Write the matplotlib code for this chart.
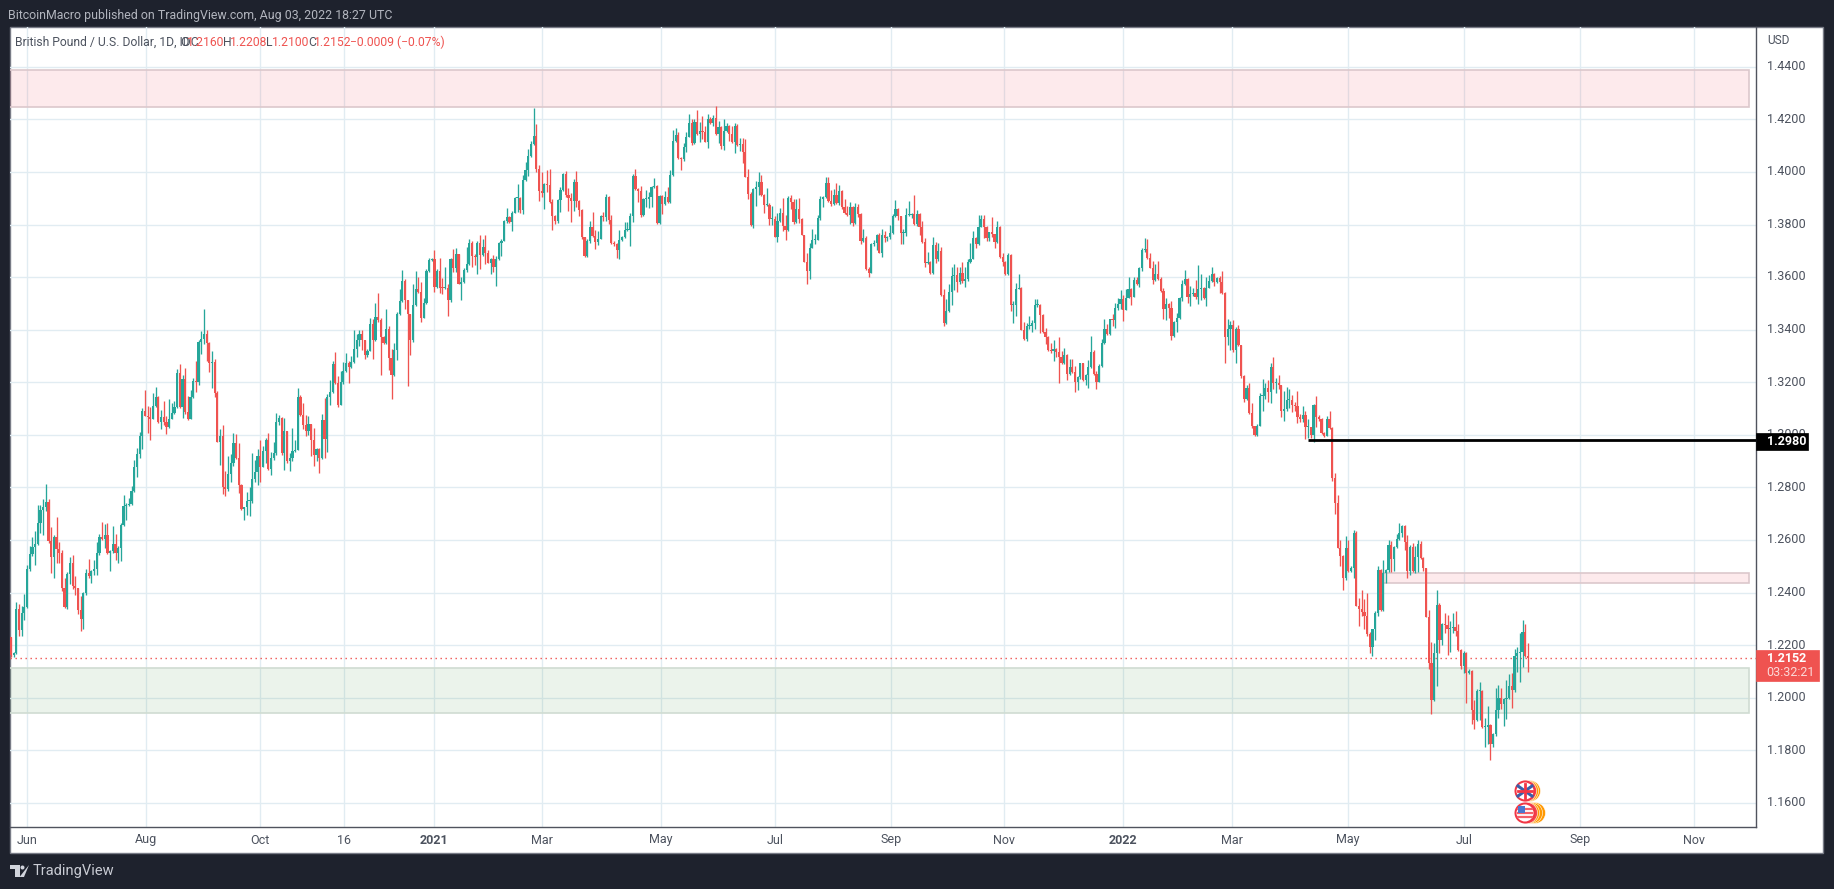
import matplotlib
matplotlib.use("Agg")
import matplotlib.pyplot as plt
from matplotlib.patches import Circle, Polygon, Rectangle
import numpy as np

# GBPUSD daily candles, in 1/10000 of a dollar.
# One line per 10 bars, upper/lower are wick lengths past the body.
first_open = 12232
closes = [
    12162,12170,12337,12258,12322,12347,12491,12548,12575,12584,
    12666,12716,12727,12746,12596,12535,12610,12565,12549,12419,
    12347,12470,12511,12425,12418,12334,12299,12397,12476,12463,
    12482,12491,12549,12611,12605,12621,12549,12558,12587,12552,
    12571,12656,12729,12732,12736,12786,12879,12929,12997,13089,
    13073,13068,13062,13109,13143,13048,13068,13048,13029,13062,
    13084,13105,13236,13105,13213,13086,13061,13144,13206,13200,
    13353,13365,13385,13349,13273,13276,13159,12974,12994,12800,
    12796,12851,12893,12969,12914,12809,12720,12724,12747,12747,
    12834,12857,12918,12879,12937,12980,12870,12912,12930,13049,
    13064,12933,13016,12899,12914,12940,12943,13143,13075,13039,
    13016,13040,12982,12923,12946,12912,13056,12984,13143,13162,
    13270,13198,13115,13200,13243,13274,13257,13276,13325,13359,
    13383,13359,13305,13320,13420,13361,13448,13438,13374,13350,
    13403,13294,13228,13321,13460,13509,13586,13514,13460,13359,
    13495,13556,13543,13446,13500,13624,13664,13668,13563,13624,
    13560,13558,13558,13512,13670,13634,13687,13575,13582,13626,
    13649,13729,13681,13677,13731,13683,13716,13693,13655,13668,
    13639,13668,13731,13738,13814,13830,13811,13845,13900,13900,
    13854,13969,14008,14059,14106,14135,14011,13928,13918,13954,
    13951,13884,13833,13814,13893,13932,13993,13912,13899,13890,
    13960,13890,13856,13751,13681,13738,13789,13757,13734,13744,
    13833,13827,13906,13818,13729,13725,13703,13740,13751,13778,
    13780,13833,13983,13935,13928,13836,13897,13897,13903,13941,
    13945,13805,13909,13877,13903,13886,13988,14116,14140,14053,
    14049,14093,14134,14186,14110,14191,14143,14156,14151,14115,
    14201,14186,14204,14144,14170,14100,14156,14176,14144,14112,
    14176,14103,14106,14077,13982,13916,13797,13935,13941,13960,
    13912,13874,13876,13820,13820,13754,13814,13842,13795,13778,
    13902,13886,13810,13858,13820,13761,13659,13624,13712,13742,
    13742,13823,13897,13903,13957,13890,13877,13911,13881,13927,
    13865,13843,13836,13866,13805,13865,13839,13738,13750,13630,
    13617,13725,13729,13759,13693,13759,13747,13754,13767,13831,
    13858,13831,13767,13767,13836,13836,13839,13801,13839,13792,
    13734,13653,13658,13615,13721,13668,13700,13531,13427,13471,
    13545,13604,13607,13582,13615,13585,13592,13658,13670,13747,
    13725,13792,13820,13791,13747,13770,13763,13734,13792,13677,
    13658,13611,13683,13493,13493,13556,13560,13399,13366,13414,
    13414,13427,13493,13495,13455,13391,13372,13321,13319,13328,
    13315,13296,13272,13303,13230,13259,13239,13201,13220,13272,
    13207,13227,13259,13316,13232,13201,13262,13348,13404,13382,
    13439,13436,13484,13496,13518,13475,13522,13554,13526,13589,
    13573,13636,13702,13706,13672,13636,13589,13611,13594,13547,
    13480,13499,13484,13376,13430,13445,13519,13573,13592,13524,
    13535,13541,13526,13554,13557,13519,13560,13584,13613,13582,
    13597,13582,13541,13373,13401,13416,13323,13404,13340,13223,
    13135,13179,13082,13032,12999,13034,13146,13146,13180,13164,
    13260,13197,13197,13189,13091,13098,13131,13132,13113,13110,
    13069,13062,13075,13029,13029,12999,13114,13069,13060,13009,
    12996,13060,13028,12836,12742,12571,12539,12454,12571,12482,
    12495,12628,12351,12338,12326,12310,12241,12194,12260,12323,
    12488,12333,12473,12488,12583,12529,12575,12603,12628,12653,
    12594,12482,12573,12482,12535,12587,12533,12492,12309,12132,
    11992,12170,12352,12220,12282,12276,12263,12267,12270,12254,
    12182,12121,12172,12096,12102,11953,11915,12025,12027,11890,
    11890,11896,11824,11862,11953,12001,11976,11995,12001,12046,
    12029,12159,12170,12176,12252,12159,12152,
]
upper = [
    0,5,28,19,28,47,16,29,38,51,
    67,16,28,66,9,55,11,79,28,15,
    38,9,25,33,40,0,55,5,15,53,
    5,32,43,13,58,42,44,6,66,38,
    6,10,41,10,25,19,24,20,15,14,
    80,35,38,51,39,3,28,62,22,74,
    38,23,13,32,13,42,63,25,10,76,
    6,29,95,15,3,42,13,9,30,43,
    64,67,34,38,34,54,3,3,37,53,
    97,48,28,62,22,10,27,22,42,34,
    11,3,50,0,19,86,38,36,9,48,
    37,33,1,43,3,3,23,83,13,46,
    11,44,25,44,33,38,8,23,75,25,
    14,15,1,5,24,22,54,93,6,3,
    76,10,33,30,9,44,42,8,0,0,
    80,66,44,38,21,6,10,6,35,6,
    50,35,80,15,4,38,23,2,20,10,
    67,15,9,5,6,28,30,43,10,6,
    15,12,3,6,4,34,3,5,3,53,
    3,19,28,28,13,108,47,15,70,3,
    55,60,13,5,3,9,3,10,25,20,
    13,43,3,3,3,6,23,57,23,32,
    3,13,10,3,19,9,4,38,6,32,
    28,10,9,28,5,20,3,34,22,4,
    30,4,4,3,25,41,20,43,27,13,
    3,16,19,34,15,10,45,32,55,23,
    19,6,13,45,22,4,46,10,3,30,
    10,6,22,22,50,30,6,3,25,38,
    28,3,61,6,52,13,28,20,58,43,
    8,10,10,38,43,6,0,32,16,41,
    20,13,13,4,24,25,40,25,46,23,
    4,32,28,21,5,15,13,3,34,6,
    10,6,11,4,8,23,16,3,30,9,
    34,4,3,15,25,53,5,72,15,3,
    20,16,36,3,32,14,29,13,23,46,
    28,36,42,30,25,41,48,10,61,29,
    4,43,15,15,4,3,60,0,22,3,
    16,4,8,3,16,23,51,4,30,10,
    38,8,25,20,3,3,16,3,30,34,
    4,57,22,28,4,28,28,23,4,3,
    3,3,25,60,5,10,9,15,36,16,
    3,20,16,25,32,13,34,47,3,11,
    13,3,10,42,38,19,25,38,50,8,
    10,20,4,25,3,19,6,15,34,3,
    32,19,47,91,53,4,42,23,25,4,
    4,8,42,3,38,16,20,5,13,3,
    3,10,19,40,0,6,13,66,19,29,
    15,38,20,30,0,70,53,44,20,13,
    56,10,35,15,30,0,5,34,6,3,
    3,10,30,3,20,30,30,3,44,30,
    5,9,5,30,71,50,88,9,3,6,
    13,3,53,3,19,15,3,19,38,6,
    3,24,10,16,44,15,9,3,3,24,
    80,38,57,10,3,42,38,25,51,60,
    28,3,6,3,8,3,40,8,32,3,
    32,73,3,4,84,47,38,3,66,44,
    50,28,22,72,43,28,48,
]
lower = [
    5,5,5,23,23,27,5,9,9,70,
    3,38,95,16,6,62,81,51,38,13,
    4,10,38,10,28,16,44,38,4,6,
    25,13,25,4,5,34,3,67,6,29,
    41,50,3,51,4,4,2,39,15,50,
    3,61,80,3,4,3,25,9,24,3,
    3,3,3,3,40,5,5,1,2,38,
    10,44,20,67,32,95,16,0,89,25,
    30,9,30,10,4,30,5,45,30,55,
    6,15,48,57,3,42,3,23,6,6,
    10,10,66,4,35,13,4,1,3,16,
    19,15,61,41,22,57,2,70,48,30,
    2,3,8,2,6,3,59,2,3,29,
    20,38,16,10,2,72,3,9,148,4,
    3,46,91,3,38,4,3,37,273,55,
    4,4,3,16,2,2,5,2,19,3,
    21,22,2,60,5,16,14,3,62,3,
    6,4,42,32,66,53,3,44,3,45,
    19,72,3,50,2,9,6,34,1,52,
    9,15,3,25,3,3,10,38,15,60,
    29,3,53,13,9,44,3,9,47,80,
    38,25,23,6,4,4,9,3,28,13,
    1,14,14,16,4,6,29,33,3,3,
    3,61,23,3,42,9,3,32,35,38,
    4,3,4,38,3,3,3,5,3,4,
    41,9,16,3,8,4,3,30,25,3,
    23,4,13,4,34,13,16,3,25,3,
    41,6,24,43,3,19,3,9,66,30,
    3,30,3,23,23,2,20,3,19,38,
    1,28,9,5,15,2,2,51,32,3,
    16,1,5,30,4,3,5,3,3,8,
    6,4,5,34,10,2,9,13,3,3,
    15,2,5,25,3,15,15,10,10,3,
    3,13,42,42,10,5,10,3,5,33,
    3,13,5,4,4,13,5,3,14,6,
    3,50,53,38,9,6,23,6,3,3,
    16,2,3,41,9,8,9,24,3,3,
    15,4,3,21,69,40,3,2,5,9,
    13,23,25,5,66,5,28,3,6,38,
    18,98,3,3,21,3,3,38,32,6,
    3,16,50,4,3,28,1,3,4,3,
    1,22,28,10,16,42,1,3,33,3,
    3,10,13,8,4,3,16,4,5,4,
    41,44,38,15,3,40,3,8,4,22,
    32,5,10,30,40,4,30,3,3,15,
    3,41,4,99,30,80,8,50,3,6,
    10,3,3,4,3,3,2,55,8,40,
    43,23,36,13,22,38,6,27,25,19,
    22,13,13,46,41,9,25,40,6,6,
    3,1,4,11,44,3,38,42,4,3,
    3,38,3,63,15,48,4,25,35,40,
    10,4,1,35,10,50,46,4,3,15,
    32,25,13,4,6,57,6,10,3,23,
    54,3,124,48,20,28,101,90,22,19,
    4,10,25,114,6,53,34,3,108,3,
    76,66,60,10,8,28,19,82,76,6,
    66,6,60,108,58,3,52,
]

date_ticks = [6, 50.4, 92.9, 124.3, 157.8, 198.1, 242.5, 285.1, 328.4,
              370.5, 414.9, 455.6, 498.9, 542.2, 585.4, 628]
date_labels = ["Jun", "Aug", "Oct", "16", "2021", "Mar", "May", "Jul", "Sep",
               "Nov", "2022", "Mar", "May", "Jul", "Sep", "Nov"]
bold_dates = ["2021", "2022"]
price_ticks = [1.16, 1.18, 1.20, 1.22, 1.24, 1.26, 1.28, 1.30, 1.32, 1.34,
               1.36, 1.38, 1.40, 1.42, 1.44]

last_price = 1.2152
level_price = 1.2980
level_start = 484
# (low, high, first bar) of the drawn zones
red_zone_top = (1.4246, 1.4387, -1)
red_zone_mid = (1.2436, 1.2475, 512)
green_zone = (1.1942, 1.2113, -1)
zone_end = 648.6

W, H = 1834, 889
BG = "#1e222d"
FRAME = "#787b86"
GRID = "#e1ecf2"
UP = "#26a69a"
DOWN = "#ef5350"
TEXT = "#4c525e"

plt.rcParams["font.family"] = ["Roboto", "DejaVu Sans"]

# candles
c = np.array(closes) / 10000
o = np.concatenate([[first_open / 10000], c[:-1]])
hi = np.maximum(o, c) + np.array(upper) / 10000
lo = np.minimum(o, c) - np.array(lower) / 10000
x = np.arange(len(c))
colors = np.where(c >= o, UP, DOWN)

fig = plt.figure(figsize=(W / 100, H / 100), dpi=100, facecolor=BG)

# white chart panel, frame and texts live on a pixel overlay
back = fig.add_axes([0, 0, 1, 1], zorder=0)
back.set_xlim(0, W)
back.set_ylim(H, 0)
back.axis("off")
back.add_patch(Rectangle((10, 27), 1813, 826, fc="white", ec=FRAME, lw=1))

ax = fig.add_axes([10 / W, (H - 827) / H, 1746 / W, 800 / H], zorder=1)
ax.patch.set_alpha(0)
ax.set_xlim(-0.37, 651.1)
ax.set_ylim(1.1509, 1.4551)
ax.set_xticks(date_ticks)
ax.set_yticks(price_ticks)
ax.tick_params(length=0, labelbottom=False, labelleft=False)
ax.grid(True, color=GRID, lw=1.0)
ax.set_axisbelow(True)
for side in ["top", "left"]:
    ax.spines[side].set_visible(False)
for side in ["right", "bottom"]:
    ax.spines[side].set_color("#50535e")
    ax.spines[side].set_linewidth(1.0)

for low, high, start in [red_zone_top, red_zone_mid]:
    ax.add_patch(Rectangle((start, low), zone_end - start, high - low, fc="#f23645",
                           alpha=0.1, ec="none", zorder=1.5))
    ax.add_patch(Rectangle((start, low), zone_end - start, high - low, fc="none",
                           ec="#dcc8cc", lw=1.2, zorder=1.6))
low, high, start = green_zone
ax.add_patch(Rectangle((start, low), zone_end - start, high - low, fc="#4c9a50",
                       alpha=0.11, ec="none", zorder=1.5))
ax.add_patch(Rectangle((start, low), zone_end - start, high - low, fc="none",
                       ec="#d0dcd2", lw=1.2, zorder=1.6))

ax.vlines(x, lo, hi, colors=colors, lw=0.95, zorder=3)
ax.bar(x, np.maximum(np.abs(c - o), 0.0004), bottom=np.minimum(o, c), width=0.82,
       color=colors, lw=0, zorder=3.1)

ax.axhline(last_price, color=DOWN, lw=1.0, ls=(0, (1, 2.6)), zorder=2.5)
ax.plot([level_start, 651.1], [level_price, level_price], color="black", lw=2.0,
        solid_capstyle="butt", zorder=4)

top = fig.add_axes([0, 0, 1, 1], zorder=2)
top.set_xlim(0, W)
top.set_ylim(H, 0)
top.axis("off")

top.text(8, 15, "BitcoinMacro published on TradingView.com, Aug 03, 2022 18:27 UTC",
         color="#b2b5be", fontsize=8.9, va="center")

# legend row
legend_parts = [
    (15, "British Pound / U.S. Dollar, 1D, IDC", TEXT),
    (180, "O", TEXT), (187, "1.2160", DOWN),
    (223, "H", TEXT), (230, "1.2208", DOWN),
    (266, "L", TEXT), (272, "1.2100", DOWN),
    (308, "C", TEXT), (314, "1.2152", DOWN),
    (350, "\u22120.0009 (\u22120.07%)", DOWN),
]
for px, label, col in legend_parts:
    top.text(px, 42, label, color=col, fontsize=8.7, va="center")

# axis labels
for tick, label in zip(date_ticks, date_labels):
    px = 11 + tick * 2.68
    weight = "bold" if label in bold_dates else "normal"
    top.text(px, 840, label, color=TEXT, fontsize=9, ha="center", va="center",
             fontweight=weight)
for price in price_ticks:
    py = 803 - (price - 1.16) / 0.02 * 52.6
    top.text(1767, py, f"{price:.4f}", color=TEXT, fontsize=9, va="center")
top.text(1767, 40, "USD", color=TEXT, fontsize=8.6, va="center")

# level and last price tags
top.add_patch(Rectangle((1756, 433), 52, 17, fc="black", ec="black", lw=0.5, zorder=5))
top.text(1767, 441.5, f"{level_price:.4f}", color="white", fontsize=9, fontweight="bold",
         va="center", zorder=6)
top.add_patch(Rectangle((1756, 650), 63, 31, fc=DOWN, ec=DOWN, lw=0.5, zorder=5))
top.text(1767, 658.5, f"{last_price:.4f}", color="white", fontsize=9, fontweight="bold",
         va="center", zorder=6)
top.text(1766, 672.5, "03:32:21", color="#fbd9d8", fontsize=9, va="center", zorder=6)

# event icons: stacked rings with a flag on top
for cy, offsets in [(791, [5, 3, 1]), (813, [10, 7, 4, 2])]:
    for i, off in enumerate(offsets):
        col = "#ff9800" if i < len(offsets) - 1 else "#f5474f"
        top.add_patch(Circle((1525 + off, cy), 10.5, fc=col, ec="white", lw=0.4, zorder=7))
    top.add_patch(Circle((1525, cy), 10.5, fc="#f23645", ec="none", zorder=8))
    top.add_patch(Circle((1525, cy), 8.5, fc="white", ec="none", zorder=8.1))
# UK flag
for dx, dy in [(1, 1), (1, -1)]:
    top.plot([1518, 1532], [791 - 5 * dx * dy, 791 + 5 * dx * dy], color="#3b5fa8", lw=2.2, zorder=8.2)
top.plot([1518, 1532], [791, 791], color="#f23645", lw=2, zorder=8.3)
top.plot([1525, 1525], [784, 798], color="#f23645", lw=2, zorder=8.3)
# US flag
for sy in [809, 813, 817]:
    top.plot([1518, 1532], [sy, sy], color="#f4606a", lw=1.6, zorder=8.2)
top.add_patch(Rectangle((1518, 806), 7, 6.5, fc="#4a78d0", ec="none", zorder=8.3))

# logo
logo_col = "#d1d4dc"
top.add_patch(Polygon([(10, 865), (20, 865), (20, 877), (15, 877), (15, 869), (10, 869)], fc=logo_col, ec="none"))
top.add_patch(Circle((22.5, 867.5), 2, fc=logo_col, ec="none"))
top.add_patch(Polygon([(24, 877), (29, 865), (19.5, 877)], fc=logo_col, ec="none"))
top.text(33, 871, "TradingView", color="#c9ccd4", fontsize=10.5, va="center")

fig.savefig("out.png", dpi=100, facecolor=BG)
